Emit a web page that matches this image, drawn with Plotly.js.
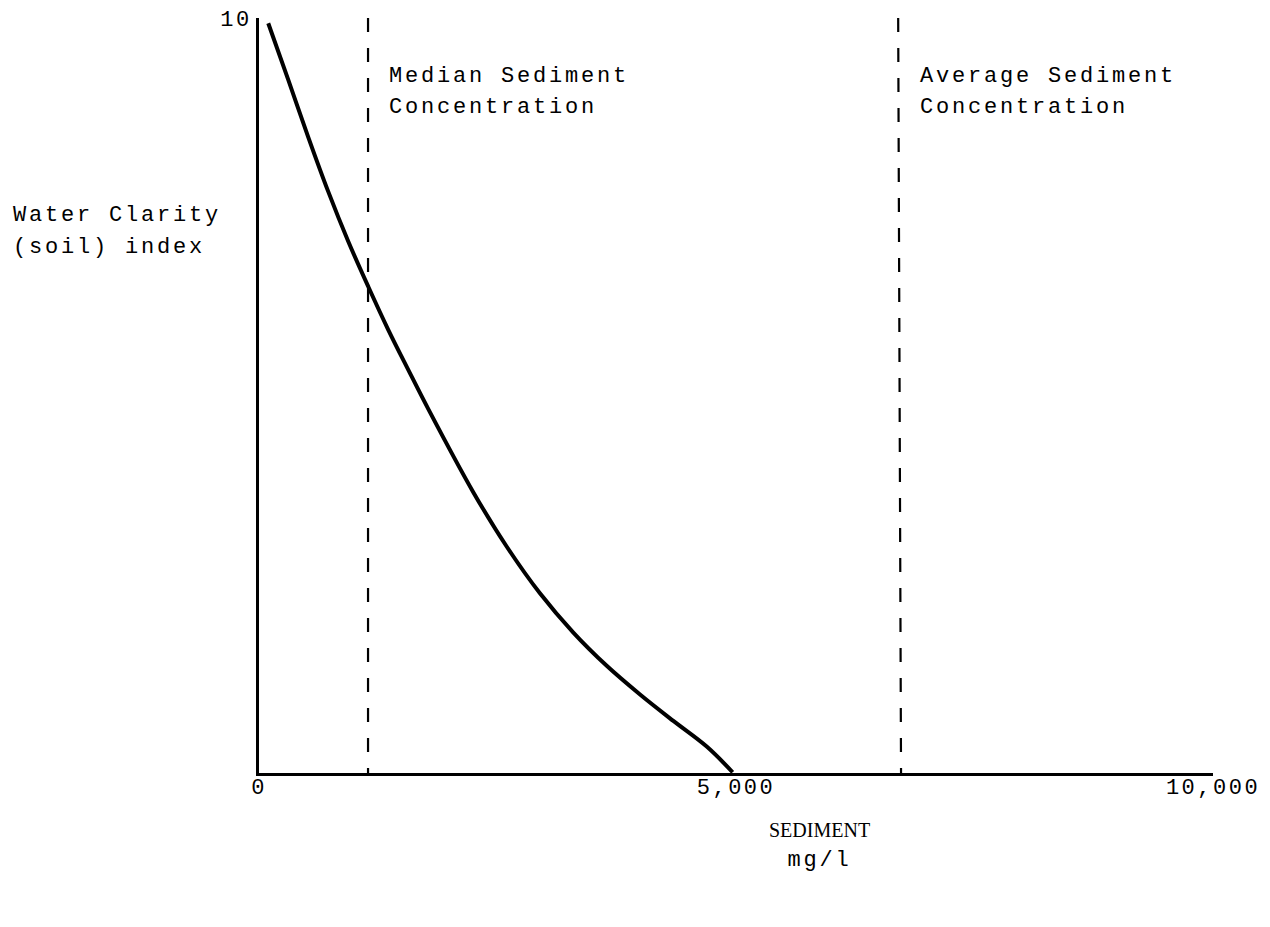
<!DOCTYPE html>
<html>
<head>
<meta charset="utf-8">
<script src="https://cdn.plot.ly/plotly-3.0.1.min.js"></script>
<style>
  html, body { margin: 0; padding: 0; background: #fff; }
  #chart { width: 1270px; height: 927px; }
  .xtick text, .ytick text { letter-spacing: 2.5px; }
</style>
</head>
<body>
<div id="chart"></div>
<script>
// Curve: water clarity index vs sediment (mg/l)
const sedimentX = [97, 307, 517, 726, 936, 1146, 1355, 1565, 1775, 2246, 2596, 2945, 3295, 3645, 3994, 4343, 4693, 4965];
const clarityY  = [9.93, 9.18, 8.42, 7.70, 7.04, 6.44, 5.87, 5.34, 4.82, 3.72, 3.00, 2.38, 1.86, 1.42, 1.04, 0.69, 0.35, 0.01];

// Reference lines (hand-drawn, slightly slanted for the average line)
const medianSedimentX = [1143, 1143];
const averageSedimentX = [6700, 6730];
const refLineY = [10, 0];

// Tick labels
const xTickVals = [0, 5000, 10000];
const xTickText = ['0', '5,000', '10,000'];
const yTickVals = [10];
const yTickText = ['10'];

const mono = 'Liberation Mono, Courier New, monospace';
const serif = 'Liberation Serif, Times New Roman, serif';

const traces = [
  {
    x: sedimentX, y: clarityY, mode: 'lines', type: 'scatter',
    line: { color: '#000', width: 4, shape: 'spline', smoothing: 1 },
    hoverinfo: 'skip', showlegend: false
  },
  {
    x: medianSedimentX, y: refLineY, mode: 'lines', type: 'scatter',
    line: { color: '#000', width: 2.2, dash: '14px,16px' },
    hoverinfo: 'skip', showlegend: false
  },
  {
    x: averageSedimentX, y: refLineY, mode: 'lines', type: 'scatter',
    line: { color: '#000', width: 2.2, dash: '14px,16px' },
    hoverinfo: 'skip', showlegend: false
  }
];

function label(text, x, xref, xshift, yshift, family, size) {
  return { x: x, xref: xref, xshift: xshift, y: 1, yref: 'paper', yshift: yshift,
           xanchor: 'left', yanchor: 'middle', align: 'left', showarrow: false,
           text: text, font: { family: family, size: size, color: '#000' } };
}

const layout = {
  width: 1270, height: 927,
  margin: { l: 259, r: 57, t: 18, b: 154 },
  paper_bgcolor: '#fff', plot_bgcolor: '#fff',
  showlegend: false,
  font: { family: mono, size: 22, color: '#000' },
  xaxis: {
    range: [0, 10000], showgrid: false, zeroline: false,
    showline: true, linecolor: '#000', linewidth: 3,
    ticks: '', ticklen: 0, tickvals: xTickVals, ticktext: xTickText,
    tickfont: { family: mono, size: 22, color: '#000' },
    ticklabelstandoff: -8
  },
  yaxis: {
    range: [0, 10], showgrid: false, zeroline: false,
    showline: true, linecolor: '#000', linewidth: 3,
    ticks: '', ticklen: 0, tickvals: yTickVals, ticktext: yTickText,
    tickfont: { family: mono, size: 22, color: '#000' },
    ticklabelstandoff: 0
  },
  annotations: [
    label('Median Sediment', medianSedimentX[0], 'x', 19, -58, mono, 22),
    label('Concentration', medianSedimentX[0], 'x', 19, -89, mono, 22),
    label('Average Sediment', averageSedimentX[0], 'x', 20, -58, mono, 22),
    label('Concentration', averageSedimentX[0], 'x', 20, -89, mono, 22),
    label('Water Clarity', 0, 'paper', -248, -197, mono, 22),
    label('(soil) index', 0, 'paper', -248, -229, mono, 22),
    { x: 0.588, xref: 'paper', y: 0, yref: 'paper', yshift: -57,
      xanchor: 'center', yanchor: 'middle', showarrow: false,
      text: 'SEDIMENT', font: { family: serif, size: 20, color: '#000' } },
    { x: 0.588, xref: 'paper', y: 0, yref: 'paper', yshift: -87,
      xanchor: 'center', yanchor: 'middle', showarrow: false,
      text: 'mg/l', font: { family: mono, size: 22, color: '#000' } }
  ]
};

Plotly.newPlot('chart', traces, layout, { staticPlot: true, displayModeBar: false }).then(() => {
  document.querySelectorAll('.annotation-text').forEach(t => {
    if (!/SEDIMENT/.test(t.textContent)) t.style.letterSpacing = '2.8px';
  });
});
</script>
</body>
</html>
